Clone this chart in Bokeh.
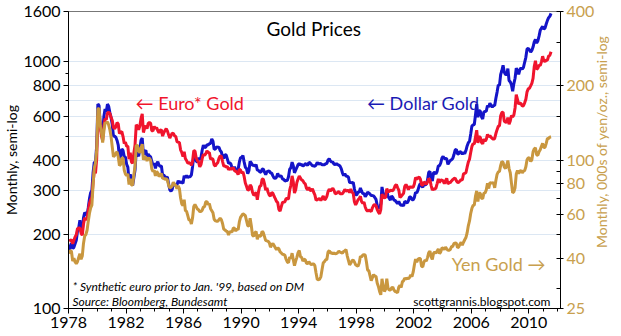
from math import pi
from bokeh.plotting import figure
from bokeh.models import (Range1d, LogScale, LogAxis, FixedTicker,
                          PrintfTickFormatter, Label)
from bokeh.embed import file_html
from bokeh.resources import INLINE

# Monthly gold prices, Jan 1978 - Jul 2011
dollar = [
    173, 179, 184, 175, 177, 183, 189, 206, 212, 228, 206, 208,  # 1978
    233, 245, 242, 239, 257, 279, 295, 301, 355, 392, 392, 456,  # 1979
    675, 665, 553, 517, 514, 600, 644, 627, 674, 661, 623, 595,  # 1980
    557, 500, 499, 495, 480, 460, 409, 410, 443, 437, 413, 410,  # 1981
    384, 374, 330, 350, 334, 315, 339, 364, 435, 422, 414, 444,  # 1982
    481, 491, 420, 432, 438, 413, 422, 416, 412, 394, 382, 388,  # 1983
    370, 386, 394, 381, 377, 378, 347, 348, 341, 340, 341, 320,  # 1984
    303, 299, 304, 324, 316, 317, 317, 330, 323, 326, 325, 322,  # 1985
    345, 339, 346, 340, 342, 342, 348, 376, 418, 423, 397, 391,  # 1986
    408, 401, 409, 438, 460, 449, 451, 461, 460, 466, 467, 487,  # 1987
    477, 442, 443, 452, 451, 451, 437, 431, 413, 406, 420, 419,  # 1988
    404, 388, 390, 385, 371, 368, 375, 365, 362, 367, 392, 409,  # 1989
    410, 417, 393, 374, 369, 352, 362, 395, 389, 381, 381, 378,  # 1990
    383, 364, 363, 358, 357, 367, 368, 357, 349, 359, 360, 361,  # 1991
    354, 354, 345, 338, 337, 341, 353, 343, 345, 344, 335, 334,  # 1992
    329, 330, 330, 342, 367, 372, 392, 379, 355, 364, 373, 383,  # 1993
    387, 382, 384, 378, 381, 386, 385, 380, 391, 389, 384, 379,  # 1994
    379, 377, 382, 391, 385, 387, 386, 383, 383, 383, 386, 387,  # 1995
    400, 405, 396, 393, 392, 385, 383, 387, 383, 381, 378, 369,  # 1996
    355, 346, 352, 344, 344, 341, 324, 324, 323, 325, 306, 289,  # 1997
    289, 297, 296, 308, 299, 292, 293, 284, 289, 296, 294, 291,  # 1998
    287, 287, 286, 282, 277, 262, 256, 257, 265, 311, 293, 284,  # 1999
    285, 300, 286, 280, 275, 286, 282, 275, 274, 270, 266, 272,  # 2000
    265, 262, 263, 261, 272, 270, 268, 273, 283, 283, 276, 276,  # 2001
    282, 296, 294, 302, 314, 322, 314, 310, 319, 317, 319, 333,  # 2002
    357, 359, 340, 329, 355, 356, 351, 360, 379, 379, 389, 407,  # 2003
    414, 405, 406, 404, 384, 392, 398, 401, 406, 420, 439, 442,  # 2004
    424, 423, 434, 429, 422, 430, 424, 437, 456, 470, 476, 510,  # 2005
    549, 555, 557, 610, 676, 596, 633, 632, 599, 586, 627, 629,  # 2006
    631, 665, 655, 679, 667, 655, 665, 665, 712, 754, 806, 803,  # 2007
    889, 922, 968, 909, 888, 889, 939, 839, 830, 806, 760, 816,  # 2008
    858, 943, 924, 890, 928, 946, 934, 949, 996, 1043, 1127, 1134,  # 2009
    1118, 1095, 1113, 1148, 1205, 1233, 1193, 1215, 1271, 1342, 1370, 1391,  # 2010
    1356, 1372, 1424, 1473, 1510, 1529, 1572,  # 2011
]

euro = [
    188, 189, 190, 183, 189, 195, 199, 211, 212, 212, 202, 198,  # 1978
    220, 233, 230, 231, 250, 267, 276, 282, 323, 361, 353, 403,  # 1979
    605, 610, 545, 500, 480, 548, 588, 582, 620, 625, 618, 596,  # 1980
    578, 542, 536, 546, 567, 560, 512, 518, 521, 498, 467, 472,  # 1981
    455, 455, 403, 428, 393, 388, 426, 460, 556, 548, 531, 549,  # 1982
    590, 615, 517, 539, 551, 536, 563, 568, 564, 526, 525, 547,  # 1983
    537, 541, 526, 516, 528, 530, 500, 516, 527, 536, 525, 506,  # 1984
    491, 503, 514, 512, 501, 498, 475, 472, 471, 440, 429, 413,  # 1985
    432, 405, 398, 388, 390, 388, 381, 396, 436, 435, 408, 398,  # 1986
    392, 375, 383, 405, 421, 418, 424, 436, 428, 429, 403, 406,  # 1987
    403, 382, 378, 386, 390, 406, 416, 414, 395, 378, 378, 375,  # 1988
    376, 365, 371, 366, 370, 372, 362, 360, 357, 349, 367, 364,  # 1989
    354, 358, 343, 323, 313, 302, 303, 317, 312, 296, 288, 290,  # 1990
    296, 276, 297, 313, 314, 334, 335, 320, 302, 308, 296, 288,  # 1991
    286, 295, 293, 285, 279, 272, 269, 252, 248, 259, 269, 270,  # 1992
    271, 279, 279, 278, 302, 316, 345, 326, 294, 303, 324, 335,  # 1993
    344, 338, 332, 330, 323, 320, 307, 303, 310, 302, 300, 306,  # 1994
    296, 289, 275, 276, 278, 279, 274, 280, 286, 276, 278, 285,  # 1995
    298, 305, 300, 303, 307, 301, 292, 293, 296, 298, 292, 292,  # 1996
    292, 297, 304, 299, 301, 301, 295, 305, 296, 293, 271, 263,  # 1997
    269, 276, 279, 285, 271, 267, 270, 258, 251, 248, 251, 249,  # 1998
    247, 256, 262, 264, 261, 252, 246, 242, 252, 291, 284, 281,  # 1999
    282, 306, 298, 298, 302, 301, 300, 306, 315, 318, 309, 302,  # 2000
    282, 285, 289, 293, 313, 318, 312, 303, 311, 311, 310, 310,  # 2001
    320, 340, 334, 339, 341, 335, 317, 316, 326, 323, 319, 326,  # 2002
    337, 332, 315, 302, 306, 304, 308, 321, 335, 324, 332, 331,  # 2003
    329, 321, 330, 337, 320, 324, 324, 329, 333, 336, 338, 330,  # 2004
    324, 325, 329, 333, 332, 352, 353, 355, 374, 392, 403, 429,  # 2005
    454, 466, 464, 496, 528, 469, 498, 494, 472, 465, 486, 477,  # 2006
    485, 508, 496, 503, 494, 489, 485, 489, 512, 531, 548, 550,  # 2007
    605, 623, 625, 575, 569, 570, 594, 559, 576, 606, 598, 609,  # 2008
    650, 737, 705, 674, 682, 676, 662, 664, 682, 705, 756, 777,  # 2009
    782, 799, 818, 857, 956, 1011, 932, 942, 970, 965, 1000, 1054,  # 2010
    1012, 1001, 1017, 1016, 1056, 1062, 1099,  # 2011
]

# thousands of yen per ounce (right axis)
yen = [
    41.7, 43.0, 42.5, 38.9, 40.0, 38.6, 38.0, 38.7, 40.3, 41.7, 39.6, 40.8,
    45.9, 49.2, 49.9, 51.9, 56.5, 60.8, 64.0, 65.6, 79.2, 92.9, 97.2, 109.4,
    160.7, 162.3, 137.7, 129.8, 117.7, 130.8, 141.7, 141.1, 142.9, 138.8, 132.7, 124.4,
    113.1, 103.0, 104.3, 106.4, 108.0, 103.0, 94.9, 95.9, 101.9, 101.8, 90.9, 87.7,
    86.4, 87.9, 79.5, 84.0, 79.2, 79.1, 86.8, 94.3, 114.4, 114.8, 108.9, 107.0,
    111.6, 115.9, 100.0, 102.8, 102.9, 99.1, 101.7, 101.5, 99.7, 91.8, 89.8, 90.8,
    86.2, 89.9, 88.7, 85.7, 87.1, 88.1, 84.3, 84.2, 83.5, 84.0, 82.9, 79.0,
    77.0, 77.7, 78.4, 81.3, 79.6, 78.9, 76.4, 78.5, 76.6, 70.1, 66.3, 65.4,
    69.0, 62.4, 61.9, 59.5, 57.1, 57.1, 55.0, 58.3, 64.8, 66.0, 64.7, 63.3,
    62.8, 61.8, 61.8, 62.6, 64.4, 64.7, 67.7, 67.8, 65.8, 66.6, 63.5, 62.3,
    61.1, 57.5, 56.7, 56.5, 56.4, 57.3, 58.1, 57.3, 55.3, 52.4, 52.1, 51.5,
    51.3, 49.7, 51.1, 51.2, 51.2, 53.0, 52.9, 51.5, 52.5, 52.1, 56.1, 58.5,
    59.5, 60.5, 60.1, 59.5, 56.8, 54.2, 53.9, 58.1, 54.1, 49.5, 49.1, 50.7,
    51.3, 47.7, 49.7, 49.0, 49.3, 51.4, 50.8, 48.9, 47.1, 47.0, 46.8, 46.2,
    44.3, 45.3, 45.9, 45.0, 44.1, 43.3, 44.1, 43.6, 42.4, 42.0, 41.5, 41.4,
    41.1, 39.6, 38.6, 38.3, 40.4, 39.8, 41.9, 39.4, 37.3, 38.9, 40.3, 42.1,
    43.0, 40.5, 40.3, 38.9, 39.6, 39.4, 38.1, 38.0, 38.7, 38.1, 37.6, 37.9,
    37.9, 37.3, 34.8, 32.8, 32.7, 32.9, 33.6, 36.0, 38.3, 38.7, 39.4, 39.5,
    42.4, 42.9, 42.0, 42.1, 41.6, 42.0, 41.7, 41.8, 42.1, 42.7, 42.3, 42.1,
    41.9, 42.6, 42.9, 43.3, 40.9, 39.2, 37.6, 38.2, 39.1, 39.3, 38.6, 37.6,
    37.3, 37.1, 38.2, 40.7, 40.4, 41.2, 41.3, 41.2, 38.7, 35.8, 35.6, 34.0,
    32.4, 33.3, 34.3, 33.8, 33.8, 31.7, 30.7, 29.3, 28.4, 33.0, 30.8, 29.3,
    29.9, 33.0, 30.3, 29.7, 29.7, 30.3, 30.5, 29.7, 29.3, 29.2, 29.0, 30.5,
    31.0, 30.4, 32.1, 32.4, 33.2, 32.9, 33.2, 33.0, 33.4, 34.2, 33.7, 35.1,
    37.5, 39.7, 38.5, 39.6, 39.9, 39.9, 37.1, 36.9, 38.6, 39.3, 38.9, 40.3,
    42.1, 42.7, 40.5, 39.5, 41.9, 42.4, 41.8, 42.8, 43.6, 41.7, 42.4, 44.0,
    43.9, 43.3, 44.3, 43.6, 43.0, 43.1, 43.4, 44.5, 44.7, 45.8, 46.1, 46.0,
    44.1, 44.4, 45.6, 46.3, 45.2, 46.4, 47.5, 48.5, 50.6, 54.1, 56.6, 60.7,
    63.7, 65.5, 65.7, 71.4, 75.0, 67.9, 73.4, 73.3, 70.1, 69.7, 73.4, 73.6,
    75.7, 80.5, 76.6, 80.8, 80.7, 80.6, 81.1, 77.1, 82.6, 87.5, 89.5, 89.9,
    95.1, 98.7, 97.8, 93.6, 92.4, 95.1, 99.5, 92.3, 88.8, 80.6, 73.7, 74.3,
    77.2, 87.7, 90.6, 88.1, 90.0, 90.8, 88.7, 90.2, 90.6, 93.9, 100.3, 102.1,
    101.7, 98.6, 100.2, 107.9, 110.9, 112.2, 105.0, 104.5, 108.0, 110.0, 113.7, 116.8,
    112.5, 112.5, 116.8, 122.3, 122.3, 123.8, 124.2,
]

start_year = 1978
year_ticks = [1978, 1982, 1986, 1990, 1994, 1998, 2002, 2006, 2010]
left_ticks = [100, 200, 300, 400, 600, 800, 1000, 1600]
right_ticks = [25, 40, 60, 80, 100, 200, 400]
right_title = "Monthly, 000s of yen/oz., semi-log"


def months(series):
    return [start_year + (i + 0.5) / 12 for i in range(len(series))]


FONT = "Lato"
BLUE = "#1414C8"
RED = "#F0142D"
GOLD = "#C9973F"
GOLD_TXT = "#C8A04E"

p = figure(width=621, height=336, output_backend="svg", toolbar_location=None,
           x_range=Range1d(1978, 2012.2), y_range=Range1d(100, 1600),
           y_axis_type="log",
           min_border_left=64, min_border_right=58, min_border_top=11,
           min_border_bottom=28)
p.background_fill_color = "white"
p.border_fill_color = "white"
p.outline_line_color = "#777777"

p.extra_y_ranges = {"yen": Range1d(25, 400)}
p.extra_y_scales = {"yen": LogScale()}

# grid
p.xgrid.visible = False
p.ygrid.ticker = FixedTicker(ticks=[200, 300, 400, 500, 600, 700, 800, 1000])
p.ygrid.grid_line_color = "#DCE7F3"
p.ygrid.grid_line_width = 1

# x axis
p.xaxis.ticker = FixedTicker(ticks=year_ticks,
                             minor_ticks=list(range(1978, 2013)))
p.xaxis.formatter = PrintfTickFormatter(format="%d")
# left axis
p.yaxis.ticker = FixedTicker(ticks=left_ticks, minor_ticks=[500, 700, 900])
p.yaxis.formatter = PrintfTickFormatter(format="%d")

yax = LogAxis(y_range_name="yen",
              ticker=FixedTicker(ticks=right_ticks,
                                 minor_ticks=[30, 50, 70, 90, 150, 300]),
              formatter=PrintfTickFormatter(format="%d"))
p.add_layout(yax, "right")

for ax in [p.xaxis[0], p.yaxis[0], yax]:
    ax.axis_line_color = "black"
    ax.axis_line_width = 1
    ax.major_tick_line_color = "black"
    ax.minor_tick_line_color = "black"
    ax.major_tick_in = 0
    ax.major_tick_out = 5
    ax.minor_tick_in = 0
    ax.minor_tick_out = 3
    ax.major_label_text_font = FONT
    ax.major_label_text_font_size = "16px"
    ax.major_label_text_color = "black"
    ax.major_label_standoff = 3
    ax.axis_label_text_font = FONT
    ax.axis_label_text_font_size = "14px"
    ax.axis_label_text_font_style = "normal"

yax.major_label_text_color = GOLD_TXT
yax.major_tick_in = 4
yax.major_tick_out = 3
yax.minor_tick_in = 4
yax.minor_tick_out = 0

p.yaxis[0].axis_label = "Monthly, semi-log"
p.yaxis[0].axis_label_text_color = "black"
p.yaxis[0].axis_label_standoff = 0

# right-hand title drawn as the single (rotated) label of an outer axis,
# so that it reads bottom-to-top and starts near the bottom
title_ax = LogAxis(y_range_name="yen",
                   ticker=FixedTicker(ticks=[44], minor_ticks=[]),
                   formatter=PrintfTickFormatter(format=right_title),
                   major_label_orientation=pi / 2)
title_ax.axis_line_color = None
title_ax.major_tick_line_color = None
title_ax.minor_tick_line_color = None
title_ax.major_tick_in = 0
title_ax.major_tick_out = 0
title_ax.minor_tick_in = 0
title_ax.minor_tick_out = 0
title_ax.major_label_standoff = 4
title_ax.major_label_text_font = FONT
title_ax.major_label_text_font_size = "14px"
title_ax.major_label_text_color = GOLD_TXT
p.add_layout(title_ax, "right")

# lines
p.line(months(dollar), dollar, line_color=BLUE, line_width=3)
p.line(months(euro), euro, line_color=RED, line_width=3)
p.line(months(yen), yen, line_color=GOLD, line_width=3, y_range_name="yen")

# texts
p.add_layout(Label(x=1995.05, y=1360, text="Gold Prices", text_font=FONT,
                   text_font_size="19px", text_color="black",
                   text_align="center", text_baseline="middle"))
p.add_layout(Label(x=1982.66, y=681, text="\u2190 Euro* Gold", text_font=FONT,
                   text_font_size="18px", text_color=RED,
                   text_align="left", text_baseline="middle"))
p.add_layout(Label(x=1998.75, y=681, text="\u2190 Dollar Gold", text_font=FONT,
                   text_font_size="18px", text_color="#1A1AB4",
                   text_align="left", text_baseline="middle"))
p.add_layout(Label(x=2011.15, y=151, text="Yen Gold \u2192", text_font=FONT,
                   text_font_size="18px", text_color=GOLD_TXT,
                   text_align="right", text_baseline="middle"))
p.add_layout(Label(x=1978.27, y=123, text="* Synthetic euro prior to Jan. '99, based on DM",
                   text_font=FONT, text_font_size="12px", text_font_style="italic",
                   text_color="black", text_align="left", text_baseline="middle"))
p.add_layout(Label(x=1978.27, y=106.3, text="Source:  Bloomberg, Bundesamt",
                   text_font=FONT, text_font_size="12px", text_font_style="italic",
                   text_color="black", text_align="left", text_baseline="middle"))
p.add_layout(Label(x=2011.5, y=106.3, text="scottgrannis.blogspot.com",
                   text_font=FONT, text_font_size="12px",
                   text_color="black", text_align="right", text_baseline="middle"))

open("out.html", "w").write(file_html(p, INLINE))
